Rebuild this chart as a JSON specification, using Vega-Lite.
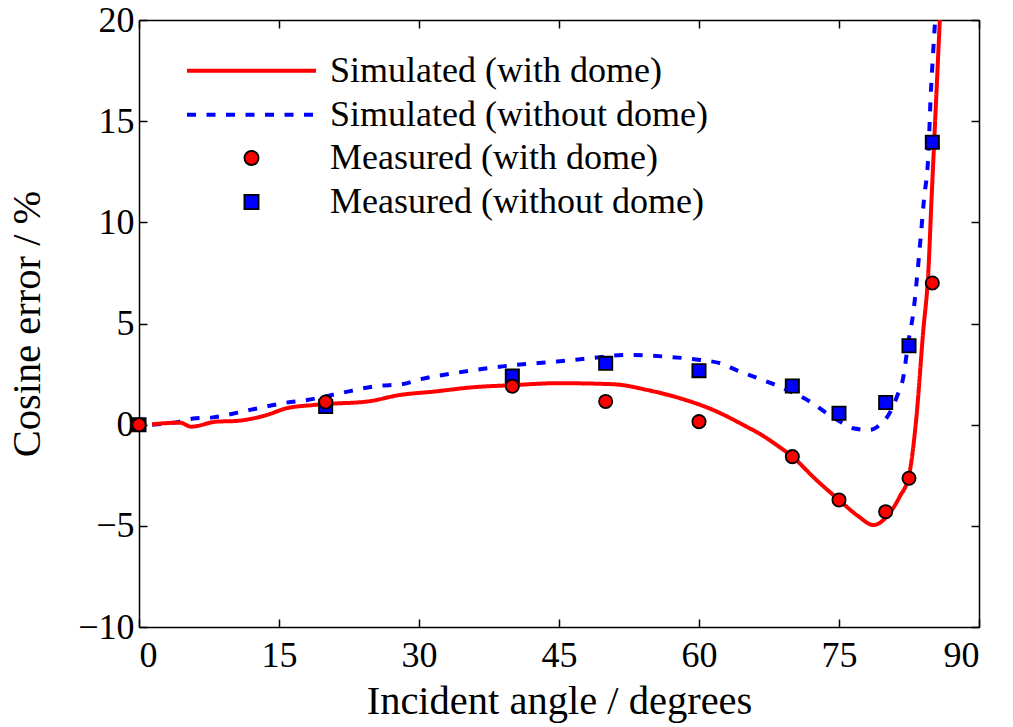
{
  "$schema": "https://vega.github.io/schema/vega-lite/v6.json",
  "width": 840,
  "height": 607,
  "autosize": {"type": "none"},
  "padding": {"left": 139, "top": 20, "right": 34, "bottom": 100},
  "background": "white",
  "config": {
    "view": {"stroke": null},
    "font": "Liberation Serif",
    "axis": {
      "domainColor": "black", "domainWidth": 1.5, "tickColor": "black", "tickWidth": 1.5,
      "tickSize": -8, "grid": false, "labelFont": "Liberation Serif", "labelFontSize": 36,
      "labelColor": "black", "titleFont": "Liberation Serif", "titleFontSize": 40.5,
      "titleFontWeight": "normal", "titleColor": "black"
    },
    "legend": {"labelFont": "Liberation Serif", "labelFontSize": 36, "labelColor": "black", "labelLimit": 0}
  },
  "data": {"values": [
    {"series": "Simulated (with dome)", "angle": 1.4, "error": 0.02},
    {"series": "Simulated (with dome)", "angle": 4.4, "error": 0.1},
    {"series": "Simulated (with dome)", "angle": 5.6, "error": -0.1},
    {"series": "Simulated (with dome)", "angle": 8.3, "error": 0.15},
    {"series": "Simulated (with dome)", "angle": 10.3, "error": 0.18},
    {"series": "Simulated (with dome)", "angle": 13.7, "error": 0.48},
    {"series": "Simulated (with dome)", "angle": 15.8, "error": 0.81},
    {"series": "Simulated (with dome)", "angle": 18.7, "error": 0.97},
    {"series": "Simulated (with dome)", "angle": 20, "error": 1.02},
    {"series": "Simulated (with dome)", "angle": 24.4, "error": 1.14},
    {"series": "Simulated (with dome)", "angle": 28, "error": 1.47},
    {"series": "Simulated (with dome)", "angle": 31.5, "error": 1.63},
    {"series": "Simulated (with dome)", "angle": 35.8, "error": 1.85},
    {"series": "Simulated (with dome)", "angle": 40, "error": 1.95},
    {"series": "Simulated (with dome)", "angle": 44.8, "error": 2.05},
    {"series": "Simulated (with dome)", "angle": 50.8, "error": 2.0},
    {"series": "Simulated (with dome)", "angle": 54.4, "error": 1.72},
    {"series": "Simulated (with dome)", "angle": 58, "error": 1.3},
    {"series": "Simulated (with dome)", "angle": 61.5, "error": 0.73},
    {"series": "Simulated (with dome)", "angle": 65.1, "error": -0.1},
    {"series": "Simulated (with dome)", "angle": 66.5, "error": -0.45},
    {"series": "Simulated (with dome)", "angle": 68.3, "error": -1.0},
    {"series": "Simulated (with dome)", "angle": 70, "error": -1.58},
    {"series": "Simulated (with dome)", "angle": 72.5, "error": -2.7},
    {"series": "Simulated (with dome)", "angle": 75, "error": -3.72},
    {"series": "Simulated (with dome)", "angle": 77, "error": -4.5},
    {"series": "Simulated (with dome)", "angle": 78.7, "error": -4.96},
    {"series": "Simulated (with dome)", "angle": 80.1, "error": -4.55},
    {"series": "Simulated (with dome)", "angle": 81.5, "error": -3.56},
    {"series": "Simulated (with dome)", "angle": 82.5, "error": -2.5},
    {"series": "Simulated (with dome)", "angle": 83.3, "error": 0.4},
    {"series": "Simulated (with dome)", "angle": 84, "error": 4.5},
    {"series": "Simulated (with dome)", "angle": 84.6, "error": 7.8},
    {"series": "Simulated (with dome)", "angle": 84.9, "error": 11},
    {"series": "Simulated (with dome)", "angle": 85.2, "error": 14},
    {"series": "Simulated (with dome)", "angle": 85.5, "error": 17},
    {"series": "Simulated (with dome)", "angle": 85.8, "error": 20},
    {"series": "Simulated (without dome)", "angle": 1.4, "error": 0.0},
    {"series": "Simulated (without dome)", "angle": 4.4, "error": 0.15},
    {"series": "Simulated (without dome)", "angle": 5.8, "error": 0.3},
    {"series": "Simulated (without dome)", "angle": 7.9, "error": 0.36},
    {"series": "Simulated (without dome)", "angle": 11.9, "error": 0.73},
    {"series": "Simulated (without dome)", "angle": 15.8, "error": 1.09},
    {"series": "Simulated (without dome)", "angle": 18, "error": 1.22},
    {"series": "Simulated (without dome)", "angle": 21.5, "error": 1.55},
    {"series": "Simulated (without dome)", "angle": 25.5, "error": 1.91},
    {"series": "Simulated (without dome)", "angle": 28.3, "error": 2.01},
    {"series": "Simulated (without dome)", "angle": 30.1, "error": 2.24},
    {"series": "Simulated (without dome)", "angle": 33.7, "error": 2.54},
    {"series": "Simulated (without dome)", "angle": 37.3, "error": 2.79},
    {"series": "Simulated (without dome)", "angle": 40.3, "error": 2.95},
    {"series": "Simulated (without dome)", "angle": 44.8, "error": 3.12},
    {"series": "Simulated (without dome)", "angle": 48.3, "error": 3.28},
    {"series": "Simulated (without dome)", "angle": 52.3, "error": 3.45},
    {"series": "Simulated (without dome)", "angle": 56.5, "error": 3.36},
    {"series": "Simulated (without dome)", "angle": 60.1, "error": 3.2},
    {"series": "Simulated (without dome)", "angle": 62.3, "error": 3.03},
    {"series": "Simulated (without dome)", "angle": 64, "error": 2.7},
    {"series": "Simulated (without dome)", "angle": 66, "error": 2.35},
    {"series": "Simulated (without dome)", "angle": 68, "error": 2.0},
    {"series": "Simulated (without dome)", "angle": 69.4, "error": 1.72},
    {"series": "Simulated (without dome)", "angle": 71.9, "error": 1.14},
    {"series": "Simulated (without dome)", "angle": 73.7, "error": 0.56},
    {"series": "Simulated (without dome)", "angle": 75.1, "error": 0.15},
    {"series": "Simulated (without dome)", "angle": 76.5, "error": -0.18},
    {"series": "Simulated (without dome)", "angle": 78.3, "error": -0.26},
    {"series": "Simulated (without dome)", "angle": 79.4, "error": 0.0},
    {"series": "Simulated (without dome)", "angle": 80.3, "error": 0.48},
    {"series": "Simulated (without dome)", "angle": 81.2, "error": 1.38},
    {"series": "Simulated (without dome)", "angle": 81.9, "error": 2.37},
    {"series": "Simulated (without dome)", "angle": 82.4, "error": 4.0},
    {"series": "Simulated (without dome)", "angle": 83, "error": 5.67},
    {"series": "Simulated (without dome)", "angle": 83.5, "error": 7.98},
    {"series": "Simulated (without dome)", "angle": 84.1, "error": 11.1},
    {"series": "Simulated (without dome)", "angle": 84.6, "error": 13.6},
    {"series": "Simulated (without dome)", "angle": 84.8, "error": 16.0},
    {"series": "Simulated (without dome)", "angle": 85.1, "error": 18.5},
    {"series": "Simulated (without dome)", "angle": 85.3, "error": 20},
    {"series": "Measured (with dome)", "angle": 0, "error": 0},
    {"series": "Measured (with dome)", "angle": 20, "error": 1.12},
    {"series": "Measured (with dome)", "angle": 40, "error": 1.9},
    {"series": "Measured (with dome)", "angle": 50, "error": 1.15},
    {"series": "Measured (with dome)", "angle": 60, "error": 0.15},
    {"series": "Measured (with dome)", "angle": 70, "error": -1.58},
    {"series": "Measured (with dome)", "angle": 75, "error": -3.72},
    {"series": "Measured (with dome)", "angle": 80, "error": -4.3},
    {"series": "Measured (with dome)", "angle": 82.5, "error": -2.65},
    {"series": "Measured (with dome)", "angle": 85, "error": 7.0},
    {"series": "Measured (without dome)", "angle": 0, "error": 0},
    {"series": "Measured (without dome)", "angle": 20, "error": 0.9},
    {"series": "Measured (without dome)", "angle": 40, "error": 2.4},
    {"series": "Measured (without dome)", "angle": 50, "error": 3.03},
    {"series": "Measured (without dome)", "angle": 60, "error": 2.67},
    {"series": "Measured (without dome)", "angle": 70, "error": 1.91},
    {"series": "Measured (without dome)", "angle": 75, "error": 0.56},
    {"series": "Measured (without dome)", "angle": 80, "error": 1.1},
    {"series": "Measured (without dome)", "angle": 82.5, "error": 3.9},
    {"series": "Measured (without dome)", "angle": 85, "error": 13.96}
  ]},
  "resolve": {"axis": {"x": "independent", "y": "independent"}},
  "layer": [
    {
      "transform": [{"filter": "datum.series == 'Simulated (without dome)'"}],
      "mark": {"type": "line", "strokeWidth": 4, "strokeCap": "butt", "interpolate": "monotone"},
      "encoding": {
        "x": {"field": "angle", "type": "quantitative", "scale": {"domain": [0, 90], "nice": false, "zero": false},
              "axis": {"orient": "bottom", "values": [0, 15, 30, 45, 60, 75, 90], "title": "Incident angle / degrees", "labelPadding": 19, "titlePadding": 8}},
        "y": {"field": "error", "type": "quantitative", "scale": {"domain": [-10, 20], "nice": false, "zero": false},
              "axis": {"orient": "left", "values": [-10, -5, 0, 5, 10, 15, 20], "title": "Cosine error / %", "labelPadding": 13, "titlePadding": 29}},
        "color": {"field": "series", "type": "nominal",
          "scale": {"domain": ["Simulated (with dome)", "Simulated (without dome)"], "range": ["#ff0000", "#0000ff"]},
          "legend": {"title": null, "orient": "none", "legendX": 48, "legendY": 32.7, "padding": 0,
            "symbolType": "M-12.9,0H12.9", "symbolSize": 100, "symbolStrokeWidth": 4, "symbolOffset": 46.5,
            "rowPadding": 8, "labelOffset": 60.5, "symbolOpacity": 1}},
        "strokeDash": {"field": "series", "type": "nominal",
          "scale": {"domain": ["Simulated (with dome)", "Simulated (without dome)"], "range": [[1, 0], [9, 10.5]]},
          "legend": {"title": null, "orient": "none", "legendX": 48, "legendY": 32.7, "padding": 0,
            "symbolType": "M-12.9,0H12.9", "symbolSize": 100, "symbolStrokeWidth": 4, "symbolOffset": 46.5,
            "rowPadding": 8, "labelOffset": 60.5, "symbolOpacity": 1}}
      }
    },
    {
      "transform": [{"filter": "datum.series == 'Simulated (with dome)'"}],
      "mark": {"type": "line", "strokeWidth": 4, "interpolate": "monotone"},
      "encoding": {
        "x": {"field": "angle", "type": "quantitative", "axis": null},
        "y": {"field": "error", "type": "quantitative", "axis": null},
        "color": {"field": "series", "type": "nominal"},
        "strokeDash": {"field": "series", "type": "nominal"}
      }
    },
    {
      "transform": [{"filter": "datum.series == 'Measured (without dome)'"}],
      "mark": {"type": "point", "filled": true, "size": 175, "stroke": "black", "strokeWidth": 1.8, "opacity": 1},
      "encoding": {
        "x": {"field": "angle", "type": "quantitative", "axis": null},
        "y": {"field": "error", "type": "quantitative", "axis": null},
        "fill": {"field": "series", "type": "nominal",
          "scale": {"domain": ["Measured (with dome)", "Measured (without dome)"], "range": ["#ff0000", "#0000ff"]},
          "legend": {"title": null, "orient": "none", "legendX": 48, "legendY": 120, "padding": 0,
            "symbolSize": 200, "symbolStrokeWidth": 1.8, "symbolStrokeColor": "black", "symbolOffset": 46.5,
            "rowPadding": 8, "labelOffset": 60.5, "symbolOpacity": 1,
            "encode": {"symbols": {"update": {"stroke": {"value": "black"}, "strokeWidth": {"value": 1.8}, "size": {"value": 200}}}}}},
        "shape": {"field": "series", "type": "nominal",
          "scale": {"domain": ["Measured (with dome)", "Measured (without dome)"], "range": ["circle", "square"]},
          "legend": {"title": null, "orient": "none", "legendX": 48, "legendY": 120, "padding": 0,
            "symbolSize": 200, "symbolStrokeWidth": 1.8, "symbolStrokeColor": "black", "symbolOffset": 46.5,
            "rowPadding": 8, "labelOffset": 60.5, "symbolOpacity": 1,
            "encode": {"symbols": {"update": {"stroke": {"value": "black"}, "strokeWidth": {"value": 1.8}, "size": {"value": 200}}}}}}
      }
    },
    {
      "transform": [{"filter": "datum.series == 'Measured (with dome)'"}],
      "mark": {"type": "point", "filled": true, "size": 175, "stroke": "black", "strokeWidth": 1.8, "opacity": 1},
      "encoding": {
        "x": {"field": "angle", "type": "quantitative",
              "axis": {"orient": "top", "values": [0, 15, 30, 45, 60, 75, 90], "labels": false, "title": null}},
        "y": {"field": "error", "type": "quantitative",
              "axis": {"orient": "right", "values": [-10, -5, 0, 5, 10, 15, 20], "labels": false, "title": null}},
        "fill": {"field": "series", "type": "nominal"},
        "shape": {"field": "series", "type": "nominal"}
      }
    }
  ]
}
